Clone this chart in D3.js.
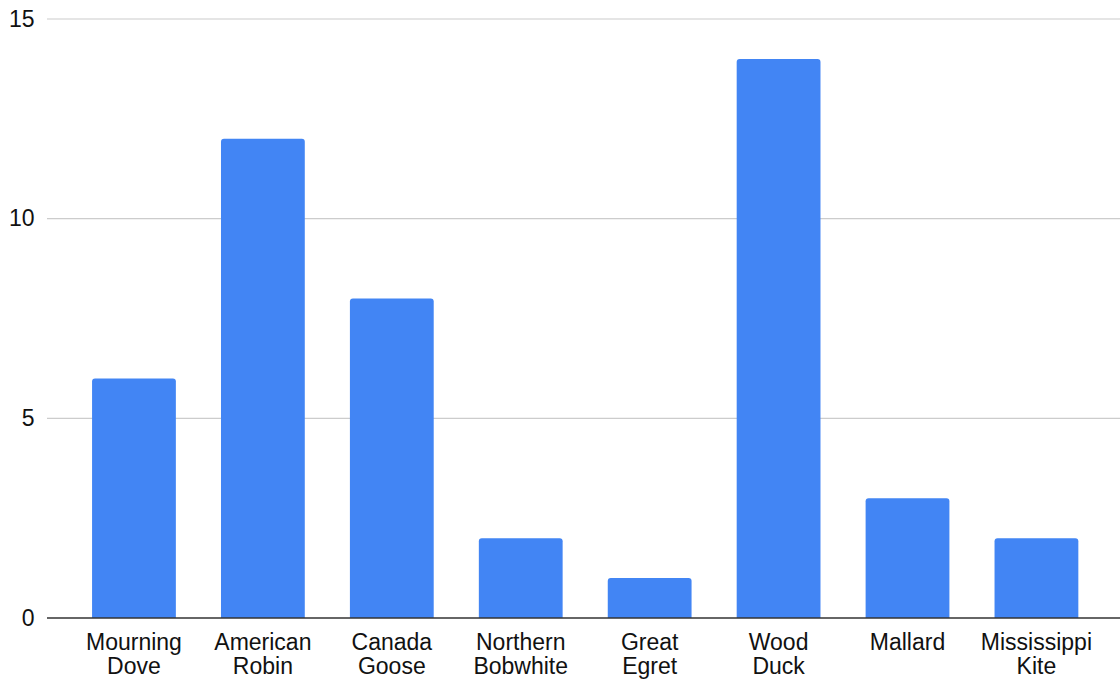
<!DOCTYPE html>
<html>
<head>
<meta charset="utf-8">
<script src="https://cdn.jsdelivr.net/npm/d3@7"></script>
<style>
  html, body { margin: 0; padding: 0; background: #fff; }
  svg { display: block; font-family: "Liberation Sans", Arial, sans-serif; }
</style>
</head>
<body>
<svg id="chart" width="1120" height="681"></svg>
<script>
const categories = ["Mourning Dove", "American Robin", "Canada Goose", "Northern Bobwhite", "Great Egret", "Wood Duck", "Mallard", "Mississippi Kite"];
const values = [6, 12, 8, 2, 1, 14, 3, 2];
const yTicks = [0, 5, 10, 15];

const svg = d3.select("#chart");
const gridLeft = 47, gridRight = 1120;
const y = d3.scaleLinear().domain([0, 15]).range([618, 19]);
const x = d3.scaleBand().domain(categories).range([69.5, 1100.9]).paddingInner(0.35).paddingOuter(0.175);

// gridlines
svg.append("g").selectAll("line").data(yTicks.filter(d => d !== 0)).join("line")
  .attr("x1", gridLeft).attr("x2", gridRight)
  .attr("y1", d => y(d)).attr("y2", d => y(d))
  .attr("stroke", "#cccccc").attr("stroke-width", 1.2);

// y labels
svg.append("g").selectAll("text").data(yTicks).join("text")
  .attr("x", 34.5).attr("y", d => y(d) - 0.5)
  .attr("text-anchor", "end").attr("dominant-baseline", "central")
  .attr("font-size", 23).attr("fill", "#111")
  .text(d => d);

// bars with rounded top corners
const r = 3;
svg.append("g").selectAll("path").data(categories).join("path")
  .attr("fill", "#4285f4")
  .attr("d", (c, i) => {
    const x0 = x(c), w = x.bandwidth(), y0 = y(values[i]), yb = y(0);
    return `M${x0},${yb} L${x0},${y0 + r} Q${x0},${y0} ${x0 + r},${y0} L${x0 + w - r},${y0} Q${x0 + w},${y0} ${x0 + w},${y0 + r} L${x0 + w},${yb} Z`;
  });

// baseline
svg.append("line").attr("x1", gridLeft).attr("x2", gridRight)
  .attr("y1", y(0)).attr("y2", y(0))
  .attr("stroke", "#333").attr("stroke-width", 1.5);

// x labels (two lines)
const xl = svg.append("g").selectAll("text").data(categories).join("text")
  .attr("text-anchor", "middle").attr("font-size", 23).attr("fill", "#111")
  .attr("x", c => x(c) + x.bandwidth() / 2).attr("y", 650);
xl.each(function(c) {
  const parts = c.split(" ");
  const t = d3.select(this);
  parts.forEach((p, k) => {
    t.append("tspan").attr("x", x(c) + x.bandwidth() / 2).attr("dy", k === 0 ? 0 : 23.5).text(p);
  });
});
</script>
</body>
</html>
